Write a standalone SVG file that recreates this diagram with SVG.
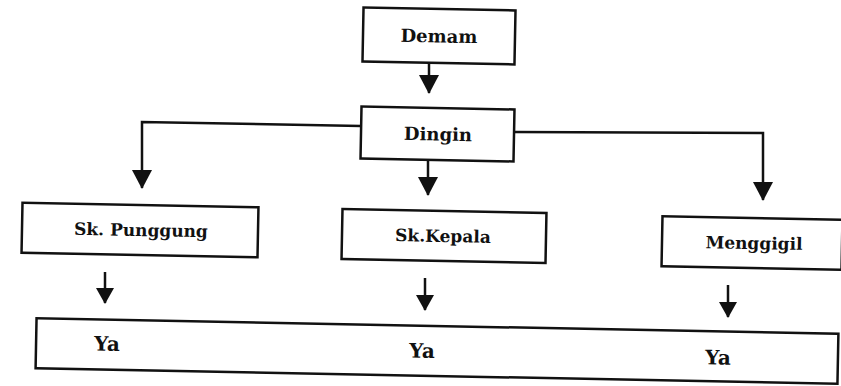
<svg xmlns="http://www.w3.org/2000/svg" width="841" height="386" viewBox="0 0 841 386">
<style>
.box{fill:#fff;stroke:#111;stroke-width:2.5}
.t{font-family:"DejaVu Serif","Liberation Serif",serif;font-weight:bold;fill:#111;text-anchor:middle;dominant-baseline:central}
.c{fill:none;stroke:#111;stroke-width:2.5}
</style>
<defs>
<marker id="big" viewBox="0 0 19 20" refX="18" refY="10" markerWidth="19" markerHeight="20" markerUnits="userSpaceOnUse" orient="auto"><path d="M0,0 L19,10 L0,20 z" fill="#111"/></marker>
<marker id="small" viewBox="0 0 16 18" refX="15" refY="9" markerWidth="16" markerHeight="18" markerUnits="userSpaceOnUse" orient="auto"><path d="M0,0 L16,9 L0,18 z" fill="#111"/></marker>
</defs>
<rect width="841" height="386" fill="#fff"/>
<g id="connectors">
<path class="c" d="M429,63 L429,93" marker-end="url(#big)"/>
<path class="c" d="M361,126 L142,122 L142,188" marker-end="url(#big)"/>
<path class="c" d="M428,160 L428,195" marker-end="url(#big)"/>
<path class="c" d="M514,132 L763,133 L763,200" marker-end="url(#big)"/>
<path class="c" d="M105,272 L105,303" marker-end="url(#small)"/>
<path class="c" d="M425,278 L425,310" marker-end="url(#small)"/>
<path class="c" d="M728,285 L728,317" marker-end="url(#small)"/>
</g>
<g id="demam" transform="rotate(1.1 439 36)">
<rect class="box" x="363" y="9" width="152" height="54"/>
<text class="t" x="439" y="36" font-size="18">Demam</text>
</g>
<g id="dingin" transform="rotate(1.1 437 134)">
<rect class="box" x="361" y="108" width="153" height="52"/>
<text class="t" x="438" y="134" font-size="18">Dingin</text>
</g>
<g id="sk-punggung" transform="rotate(1.1 140 230)">
<rect class="box" x="22" y="205" width="236" height="50"/>
<text class="t" x="141" y="230" font-size="17">Sk. Punggung</text>
</g>
<g id="sk-kepala" transform="rotate(1.1 444 236)">
<rect class="box" x="342" y="211" width="204" height="50"/>
<text class="t" x="443" y="236" font-size="17">Sk.Kepala</text>
</g>
<g id="menggigil" transform="rotate(1.1 751 243)">
<rect class="box" x="662" y="218" width="180" height="50"/>
<text class="t" x="754" y="243" font-size="17">Menggigil</text>
</g>
<g id="ya" transform="rotate(1.1 437 351)">
<rect class="box" x="36" y="326" width="802" height="50"/>
<text class="t" x="107" y="350" font-size="20">Ya</text>
<text class="t" x="422" y="351" font-size="20">Ya</text>
<text class="t" x="718" y="352" font-size="20">Ya</text>
</g>
</svg>
